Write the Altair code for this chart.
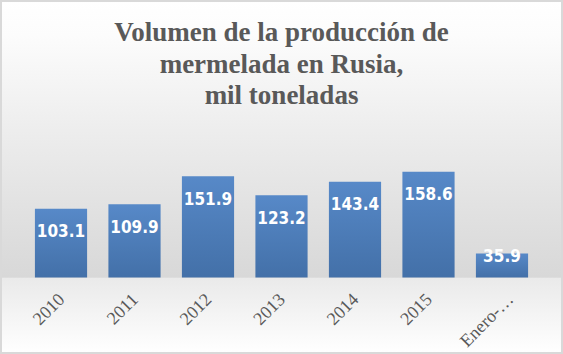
import altair as alt
import pandas as pd

categories = ["2010", "2011", "2012", "2013", "2014", "2015", "Enero-…"]
values = [103.1, 109.9, 151.9, 123.2, 143.4, 158.6, 35.9]
title_lines = ["Volumen de la producción de", "mermelada en Rusia,", "mil toneladas"]

df = pd.DataFrame({"cat": categories, "v": values})
bg_df = pd.DataFrame({"k": [0]})

bg_gradient = {
    "gradient": "linear",
    "x1": 0, "y1": 0, "x2": 0, "y2": 1,
    "stops": [
        {"offset": 0.0, "color": "#ffffff"},
        {"offset": 0.10, "color": "#fcfcfc"},
        {"offset": 0.35, "color": "#eeeeee"},
        {"offset": 0.60, "color": "#e1e1e1"},
        {"offset": 0.783, "color": "#d8d8d8"},
        {"offset": 0.786, "color": "#eaeaea"},
        {"offset": 1.0, "color": "#ffffff"},
    ],
}

bar_gradient = {
    "gradient": "linear",
    "x1": 0, "y1": 0, "x2": 0, "y2": 1,
    "stops": [
        {"offset": 0.0, "color": "#5789c8"},
        {"offset": 1.0, "color": "#4370a8"},
    ],
}

x_enc = alt.X(
    "cat:N",
    sort=categories,
    scale=alt.Scale(paddingInner=0.29, paddingOuter=0.475),
    axis=alt.Axis(
        title=None,
        domain=False,
        ticks=False,
        labelAngle=-45,
        labelAlign="right",
        labelBaseline="middle",
        labelPadding=19,
        labelFont="Liberation Serif",
        labelFontSize=18,
        labelColor="#595959",
        labelOffset={
            "condition": {"test": "datum.value === 'Enero-…'", "value": 9},
            "value": 1,
        },
        offset=-76.5,
        labelOverlap=False,
        zindex=1,
    ),
)

y_scale = alt.Scale(domain=[-114.7, 416.0], nice=False, zero=False)

background = alt.Chart(bg_df).mark_rect(
    color=bg_gradient, stroke="#d9d9d9", strokeWidth=4
).encode(opacity=alt.value(1))

bars = alt.Chart(df).mark_bar(color=bar_gradient).encode(
    x=x_enc,
    y=alt.Y("v:Q", scale=y_scale, axis=None),
    y2=alt.datum(0),
)

labels = alt.Chart(df).transform_calculate(
    ly="datum.v >= 60 ? datum.v - 35 : datum.v - 4.5"
).mark_text(
    font="DejaVu Sans Condensed, Open Sans",
    fontSize=17,
    fontWeight="bold",
    color="#ffffff",
    baseline="middle",
    align="center",
).encode(
    x=alt.X("cat:N", sort=categories),
    y=alt.Y("ly:Q", scale=y_scale, axis=None),
    text=alt.Text("v:Q", format=".1f"),
)

chart = alt.layer(background, bars, labels).properties(
    width=563,
    height=354,
    padding=0,
    autosize=alt.AutoSizeParams(type="none"),
    background="#ffffff",
    title=alt.Title(
        text=title_lines,
        font="Liberation Serif",
        fontSize=27,
        fontWeight="bold",
        color="#595959",
        anchor="middle",
        frame="group",
        baseline="alphabetic",
        lineHeight=31.5,
        offset=0,
        dy=133,
        zindex=1,
    ),
).configure_view(stroke=None)

chart.save("out.html", embed_options={"renderer": "svg", "actions": False})
